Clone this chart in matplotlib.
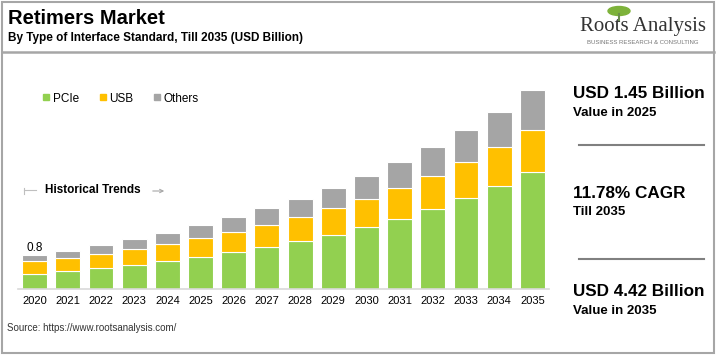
import numpy as np
import matplotlib
matplotlib.use('Agg')
import matplotlib.pyplot as plt
from matplotlib.lines import Line2D
from matplotlib.patches import Rectangle, Ellipse

plt.rcParams['font.family'] = ['Liberation Sans', 'DejaVu Sans']

# ==============================================================================
# DATA (USD Billion)
# ==============================================================================
years  = ['2020', '2021', '2022', '2023', '2024', '2025', '2026', '2027',
          '2028', '2029', '2030', '2031', '2032', '2033', '2034', '2035']
pcie   = [0.34, 0.39, 0.46, 0.53, 0.62, 0.72, 0.82, 0.93,
          1.06, 1.20, 1.37, 1.56, 1.77, 2.02, 2.30, 2.61]
usb    = [0.28, 0.29, 0.32, 0.36, 0.38, 0.42, 0.44, 0.50,
          0.53, 0.59, 0.62, 0.69, 0.74, 0.80, 0.85, 0.93]
others = [0.13, 0.17, 0.19, 0.23, 0.25, 0.29, 0.35, 0.37,
          0.41, 0.45, 0.52, 0.57, 0.64, 0.72, 0.79, 0.89]
series_names = ['PCIe', 'USB', 'Others']
first_label = '0.8'

colors = ['#92D050', '#FFC000', '#A5A5A5']
W, H = 719, 355


def fx(x):
    return x / W


def fy(y):
    return 1 - y / H


fig = plt.figure(figsize=(W / 100, H / 100), dpi=100)

# ── frame ──────────────────────────────────────────────────────────────────
frame_c = '#A6A6A6'
fig.add_artist(Rectangle((fx(1.5), fy(353)), fx(714) - fx(1.5), fy(1.5) - fy(353),
                         fill=False, edgecolor=frame_c, lw=1.5,
                         transform=fig.transFigure))
fig.add_artist(Line2D([fx(1.5), fx(714)], [fy(51.5), fy(51.5)],
                      color=frame_c, lw=1.8, transform=fig.transFigure))

# ── header ─────────────────────────────────────────────────────────────────
fig.text(fx(8), fy(18), 'Retimers Market', fontsize=14.5, fontweight='bold',
         va='center', ha='left')
fig.text(fx(8), fy(38.5), 'By Type of Interface Standard, Till 2035 (USD Billion)',
         fontsize=8.5, fontweight='bold', va='center', ha='left')

# logo
fig.add_artist(Ellipse((fx(619), fy(11)), 22 / W, 9 / H, color='#7DB23A',
                       transform=fig.transFigure))
fig.add_artist(Line2D([fx(619), fx(619)], [fy(14), fy(21)], color='#6B8E4E',
                      lw=1.5, transform=fig.transFigure))
fig.text(fx(643), fy(26), 'Roots Analysis', family='Liberation Serif',
         fontsize=15, color='#333333', ha='center', va='center')
fig.text(fx(643), fy(43), 'BUSINESS RESEARCH & CONSULTING', fontsize=4.3,
         color='#777777', ha='center', va='center')

# ── chart ──────────────────────────────────────────────────────────────────
ax = fig.add_axes([fx(18), fy(289), fx(549) - fx(18), fy(80) - fy(289)])
x = np.arange(len(years))
bottom = np.zeros(len(years))
handles = []
for vals, c, name in zip([pcie, usb, others], colors, series_names):
    ax.bar(x, vals, bottom=bottom, width=0.75, color=c, edgecolor='white',
           lw=0.8)
    bottom += np.array(vals)
    handles.append(Line2D([], [], marker='s', ls='', color=c, markersize=4.5,
                          label=name))

ax.set_xlim(-0.5, len(years) - 0.5)
ax.set_ylim(0, 209 / 45)
ax.set_xticks(x)
ax.set_xticklabels(years, fontsize=8)
ax.tick_params(axis='x', length=0, pad=5)
ax.set_yticks([])
for s in ['top', 'left', 'right']:
    ax.spines[s].set_visible(False)
ax.spines['bottom'].set_color('#D9D9D9')
ax.spines['bottom'].set_linewidth(1.2)

ax.annotate(first_label, (0, bottom[0]), xytext=(0, 5), textcoords='offset points',
            ha='center', va='center', fontsize=8.5)

ax.legend(handles=handles, loc='center left', bbox_to_anchor=(fx(31), fy(98.5)),
          bbox_transform=fig.transFigure, ncol=3, frameon=False, fontsize=8.5,
          handletextpad=0.15, columnspacing=1.6, handlelength=0.8)

# historical trends arrow
fig.add_artist(Line2D([fx(24), fx(24)], [fy(187.5), fy(193.5)], color='#BFBFBF',
                      lw=0.8, transform=fig.transFigure))
fig.add_artist(Line2D([fx(24), fx(36)], [fy(190.5), fy(190.5)], color='#BFBFBF',
                      lw=0.8, transform=fig.transFigure))
ax.annotate('', xy=(fx(167), fy(191)), xytext=(fx(150), fy(191)),
            xycoords='figure fraction', textcoords='figure fraction',
            arrowprops=dict(arrowstyle='->', color='#A6A6A6', lw=0.8,
                            mutation_scale=6))
fig.text(fx(45), fy(190.5), 'Historical Trends', fontsize=8.5, fontweight='bold',
         va='center', ha='left')

# ── right panel ────────────────────────────────────────────────────────────
panel = [('USD 1.45 Billion', 'Value in 2025', 94, 113.5),
         ('11.78% CAGR', 'Till 2035', 193.5, 212),
         ('USD 4.42 Billion', 'Value in 2035', 292, 311)]
for big, small, yb, ys in panel:
    fig.text(fx(573), fy(yb), big, fontsize=12.3, fontweight='bold',
             va='center', ha='left')
    fig.text(fx(573), fy(ys), small, fontsize=9.5, fontweight='bold',
             va='center', ha='left')
for yl in [145, 258.5]:
    fig.add_artist(Line2D([fx(579), fx(704)], [fy(yl), fy(yl)], color='#808080',
                          lw=1.5, transform=fig.transFigure))

fig.text(fx(7), fy(328), 'Source: https://www.rootsanalysis.com/', fontsize=7,
         color='#333333', va='center', ha='left')

fig.savefig('out.png', dpi=100)
